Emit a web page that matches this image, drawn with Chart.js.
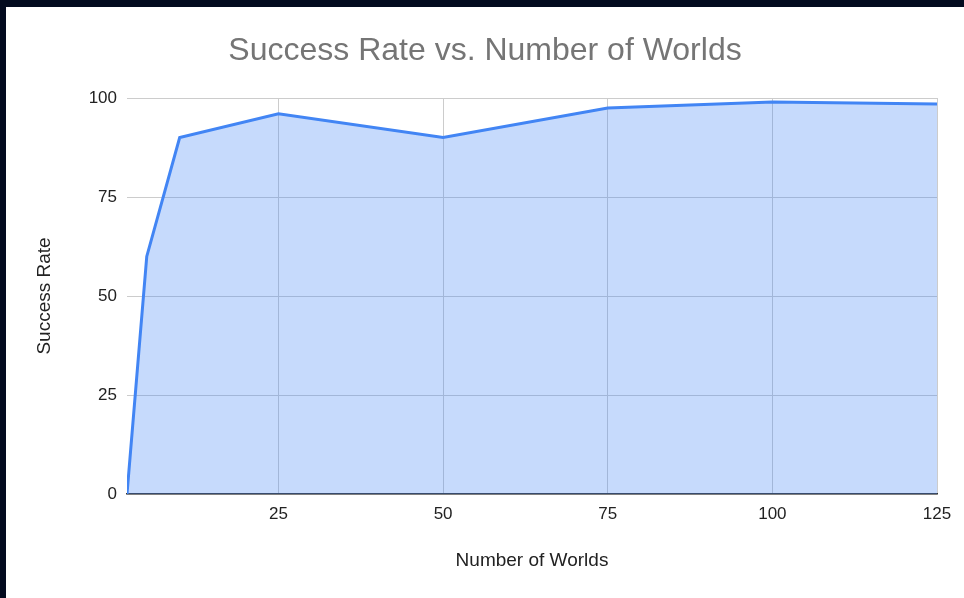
<!DOCTYPE html>
<html>
<head>
<meta charset="utf-8">
<script src="https://cdn.jsdelivr.net/npm/chart.js@4/dist/chart.umd.min.js"></script>
<style>
html,body{margin:0;padding:0;background:#030b1f;width:964px;height:598px;overflow:hidden;}
#wrap{position:absolute;left:6px;top:7px;width:958px;height:591px;background:#fff;}
canvas{display:block;}
</style>
</head>
<body>
<div id="wrap"><canvas id="chart" width="958" height="591"></canvas></div>
<script>
// data
const worlds=[2,5,10,25,50,75,100,125];
const successRate=[0,60,90,96,90,97.5,99,98.5];
const xTicks=[25,50,75,100,125];
const yTicks=[0,25,50,75,100];

const font="Arial, 'Liberation Sans', sans-serif";
const points=worlds.map((w,i)=>({x:w,y:successRate[i]}));

new Chart(document.getElementById('chart'),{
    type:'line',
    data:{datasets:[{
        label:'Success Rate',
        data:points,
        borderColor:'#4285f4',
        backgroundColor:'rgba(66,133,244,0.3)',
        borderWidth:3,
        pointRadius:0,
        tension:0,
        fill:'origin'
    }]},
    options:{
        responsive:false,
        animation:false,
        layout:{padding:0},
        plugins:{
            legend:{display:false},
            tooltip:{enabled:false},
            title:{
                display:true,
                text:'Success Rate vs. Number of Worlds',
                color:'#757575',
                font:{family:font,size:32,weight:'normal'},
                padding:{top:25,bottom:27.6}
            }
        },
        scales:{
            x:{
                type:'linear',
                min:worlds[0],
                max:xTicks[xTicks.length-1],
                afterBuildTicks:s=>{s.ticks=xTicks.map(v=>({value:v}));},
                afterFit:s=>{s.height=104;},
                grid:{color:'#cccccc',drawTicks:false},
                border:{display:true,color:'#333333',width:1.5},
                ticks:{color:'#222222',padding:10,maxRotation:0,font:{family:font,size:17}},
                title:{display:true,text:'Number of Worlds',color:'#222222',font:{family:font,size:19},padding:{top:0,bottom:25.6}}
            },
            y:{
                min:0,
                max:100,
                afterBuildTicks:s=>{s.ticks=yTicks.map(v=>({value:v}));},
                afterFit:s=>{s.width=121;},
                grid:{color:'#cccccc',drawTicks:false},
                border:{display:false},
                ticks:{color:'#222222',padding:10,font:{family:font,size:17}},
                title:{display:true,text:'Success Rate',color:'#222222',font:{family:font,size:19},padding:{top:27.6,bottom:0}}
            },
            // empty spacer on the right so the plot ends where the reference does
            yRight:{
                position:'right',
                min:0,
                max:100,
                afterFit:s=>{s.width=27;},
                grid:{display:false,drawTicks:false},
                border:{display:false},
                ticks:{display:false}
            }
        }
    }
});
</script>
</body>
</html>
